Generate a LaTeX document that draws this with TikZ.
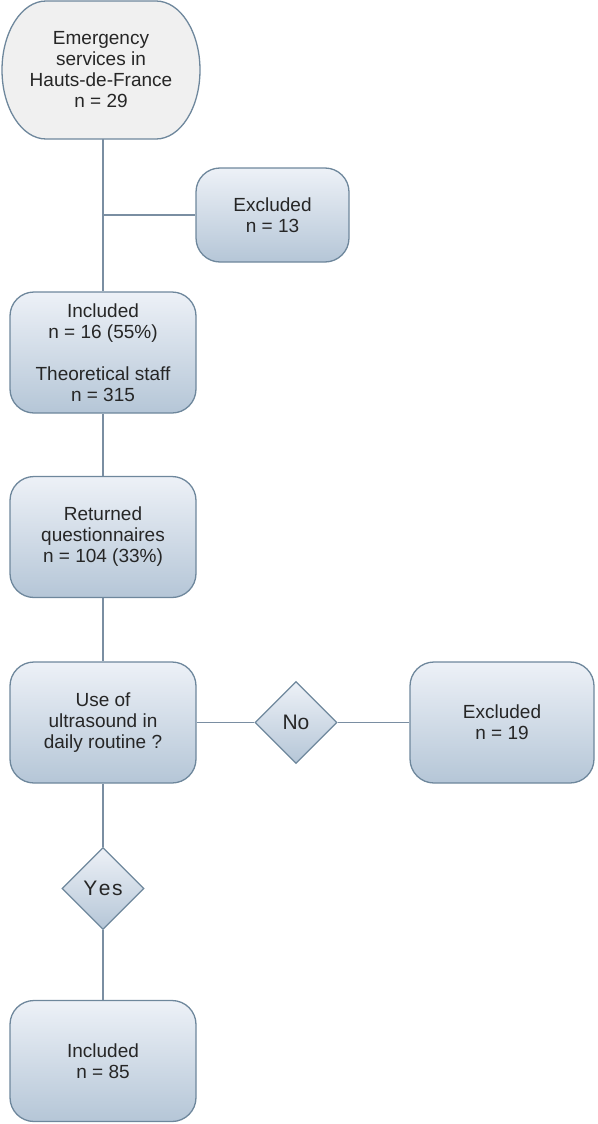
\documentclass[tikz,border=0pt]{standalone}
\usepackage{fontspec}
\setmainfont{Liberation Sans}
\usetikzlibrary{shapes.geometric}
\definecolor{bordercol}{HTML}{6E879C}
\definecolor{linecol}{HTML}{7A8EA2}
\definecolor{topfill}{HTML}{EDF1F7}
\definecolor{botfill}{HTML}{B5C6D7}
\definecolor{greyfill}{HTML}{F0F0F0}
\definecolor{txt}{HTML}{262626}
\tikzset{
  box/.style={draw=bordercol, line width=1.3pt, rounded corners=24pt,
    top color=topfill, bottom color=botfill, minimum width=186pt,
    minimum height=121pt, align=center, text=txt, inner sep=0pt,
    font=\fontsize{19}{21}\selectfont},
  dia/.style={diamond, draw=bordercol, line width=1.3pt, top color=topfill,
    bottom color=botfill, minimum width=82pt, minimum height=82pt, inner sep=0pt,
    text=txt, font=\fontsize{21}{24}\selectfont},
  conn/.style={draw=linecol, line width=1.3pt}
}
\begin{document}
\begin{tikzpicture}[x=1pt,y=-1pt]
\useasboundingbox (0,0) rectangle (597,1124);
% top stadium node (y axis points down: angle 270 is the top on screen)
\path[fill=greyfill, draw=bordercol, line width=1.3pt]
  (46,1) -- (156,1) arc[start angle=270,end angle=450,x radius=44,y radius=69]
  -- (46,139) arc[start angle=90,end angle=270,x radius=44,y radius=69] -- cycle;
\node[align=center, text=txt, font=\fontsize{19}{21}\selectfont, inner sep=0pt,
  minimum width=198pt, minimum height=138pt] (top) at (101,70)
  {Emergency\\services in\\Hauts-de-France\\n = 29};
\node[box, minimum width=153pt, minimum height=94pt] (ex1) at (272.5,215) {Excluded\\n = 13};
\node[box] (inc1) at (103,352.5) {Included\\n = 16 (55\%)\\[21pt]Theoretical staff\\n = 315};
\node[box] (ret) at (103,537) {Returned\\questionnaires\\n = 104 (33\%)};
\node[box] (use) at (103,722.5) {Use of\\ultrasound in\\daily routine ?};
\node[dia] (no) at (296,722.5) {No};
\node[box, minimum width=184pt] (ex2) at (502,722.5) {Excluded\\n = 19};
\node[dia] (yes) at (103,888.5) {Y\kern1.5pt e\kern1.5pt s};
\node[box] (inc2) at (103,1061) {Included\\n = 85};
\coordinate (j1) at (103,215);
\draw[conn] (top.south -| inc1.north) -- (inc1.north);
\draw[conn] (j1) -- (ex1.west);
\draw[conn] (inc1) -- (ret);
\draw[conn] (ret) -- (use);
\draw[conn] (use) -- (no);
\draw[conn] (no) -- (ex2);
\draw[conn] (use) -- (yes);
\draw[conn] (yes) -- (inc2);
\end{tikzpicture}
\end{document}
